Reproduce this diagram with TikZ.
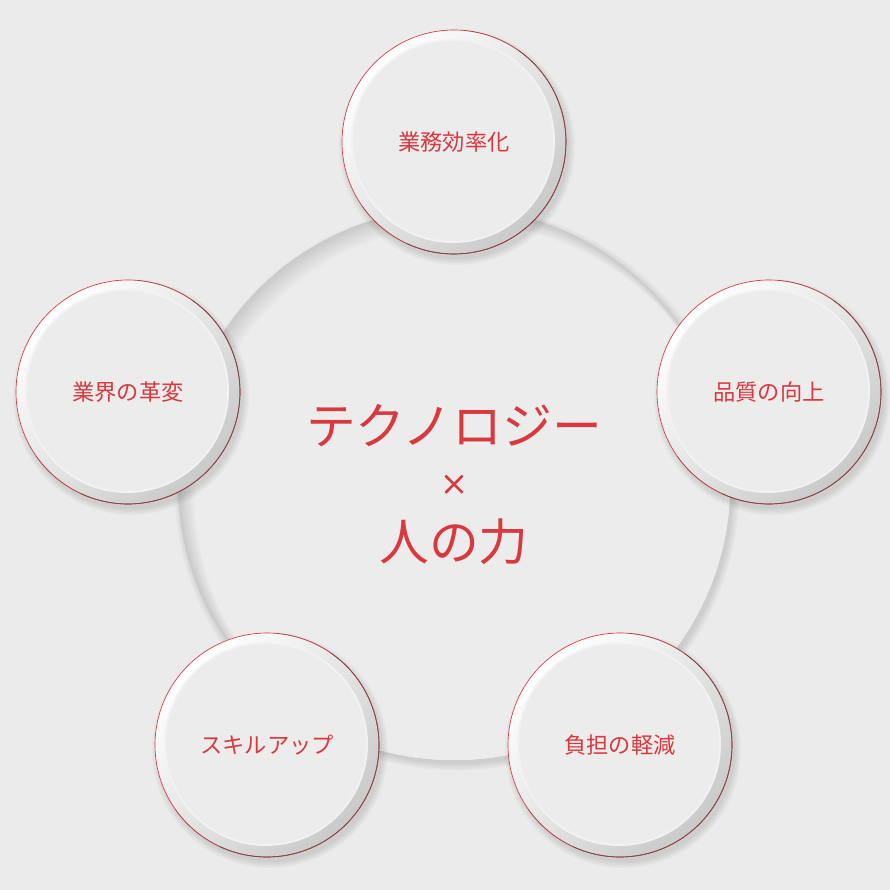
\documentclass[tikz,border=0pt]{standalone}
\usepackage{fontspec}
\newfontfamily\jpfont{Noto Sans CJK JP}
\newfontfamily\jpheavy[FakeBold=2]{Noto Sans CJK JP}
\usepackage{tikz}
\usetikzlibrary{calc}
\usetikzlibrary{backgrounds}
\definecolor{textred}{HTML}{D9383E}
\definecolor{paper}{HTML}{EBEBEB}
\definecolor{disk}{HTML}{ECECEC}
\definecolor{rimdark}{HTML}{CACACA}
\definecolor{edgedark}{HTML}{7A4848}
\tikzset{
	bubble/.style={circle, inner sep=0pt, text=textred, font=\jpfont\fontsize{19}{22}\selectfont},
	title/.style={inner sep=0pt, text=textred, font=\jpfont\fontsize{42.5}{48}\selectfont},
	cross/.style={font=\jpheavy\fontsize{24}{28}\selectfont},
	ring/.style={line width=0.2mm},
	softshadow/.style={black, opacity=0.025},
}

\begin{document}
\begin{tikzpicture}[x=0.3mm, y=0.3mm]
				\useasboundingbox (0,0) rectangle (890,890);
				\coordinate (0) at (454,406);
				\node[bubble] (1) at (454,748) {業務効率化};
				\node[bubble] (2) at (769,498) {品質の向上};
				\node[bubble] (3) at (620,145) {負担の軽減};
				\node[bubble] (4) at (267,145) {スキルアップ};
				\node[bubble] (5) at (128,498) {業界の革変};
				\node[title] (6) at (454,464) {テクノロジー};
				\node[title, cross] (7) at (454,405) {×};
				\node[title] (8) at (454,348) {人の力};
				
				\begin{scope}[on background layer]
					\fill[paper] (0,0) rectangle (890,890);
					% big disk
					\foreach \k in {0,...,4} \fill[softshadow] ($(0)+(3,-4)$) circle (276+\k*1.6);
					\begin{scope}
						\clip (0) circle (276);
						\fill[rimdark] (0) circle (276);
						\foreach \k in {1,...,12} {
							\pgfmathtruncatemacro\p{\k*100/12}
							\fill[disk!\p!rimdark] ($(0)+(\k*0.9,-\k*0.9)$) circle (276-\k*0.5);
						}
					\end{scope}
					% small disks
					\foreach \n in {1,...,5} {
						\foreach \k in {0,...,4} \fill[softshadow] ($(\n)+(3,-5)$) circle (112+\k*1.5);
						\shade[top color=white, bottom color=gray!42, shading angle=45] (\n) circle (112);
						\fill[disk!70!white] ($(\n)+(-1,1)$) circle (102);
						\fill[disk] ($(\n)+(-1,1)$) circle (100);
						\draw[ring, textred] (\n) circle (112);
						\draw[ring, edgedark, opacity=0.5] ($(\n)+(85:112)$) arc[start angle=85, end angle=-145, radius=112];
						\draw[ring, edgedark] ($(\n)+(55:112)$) arc[start angle=55, end angle=-115, radius=112];
					}
				\end{scope}
			\end{tikzpicture}
\end{document}
